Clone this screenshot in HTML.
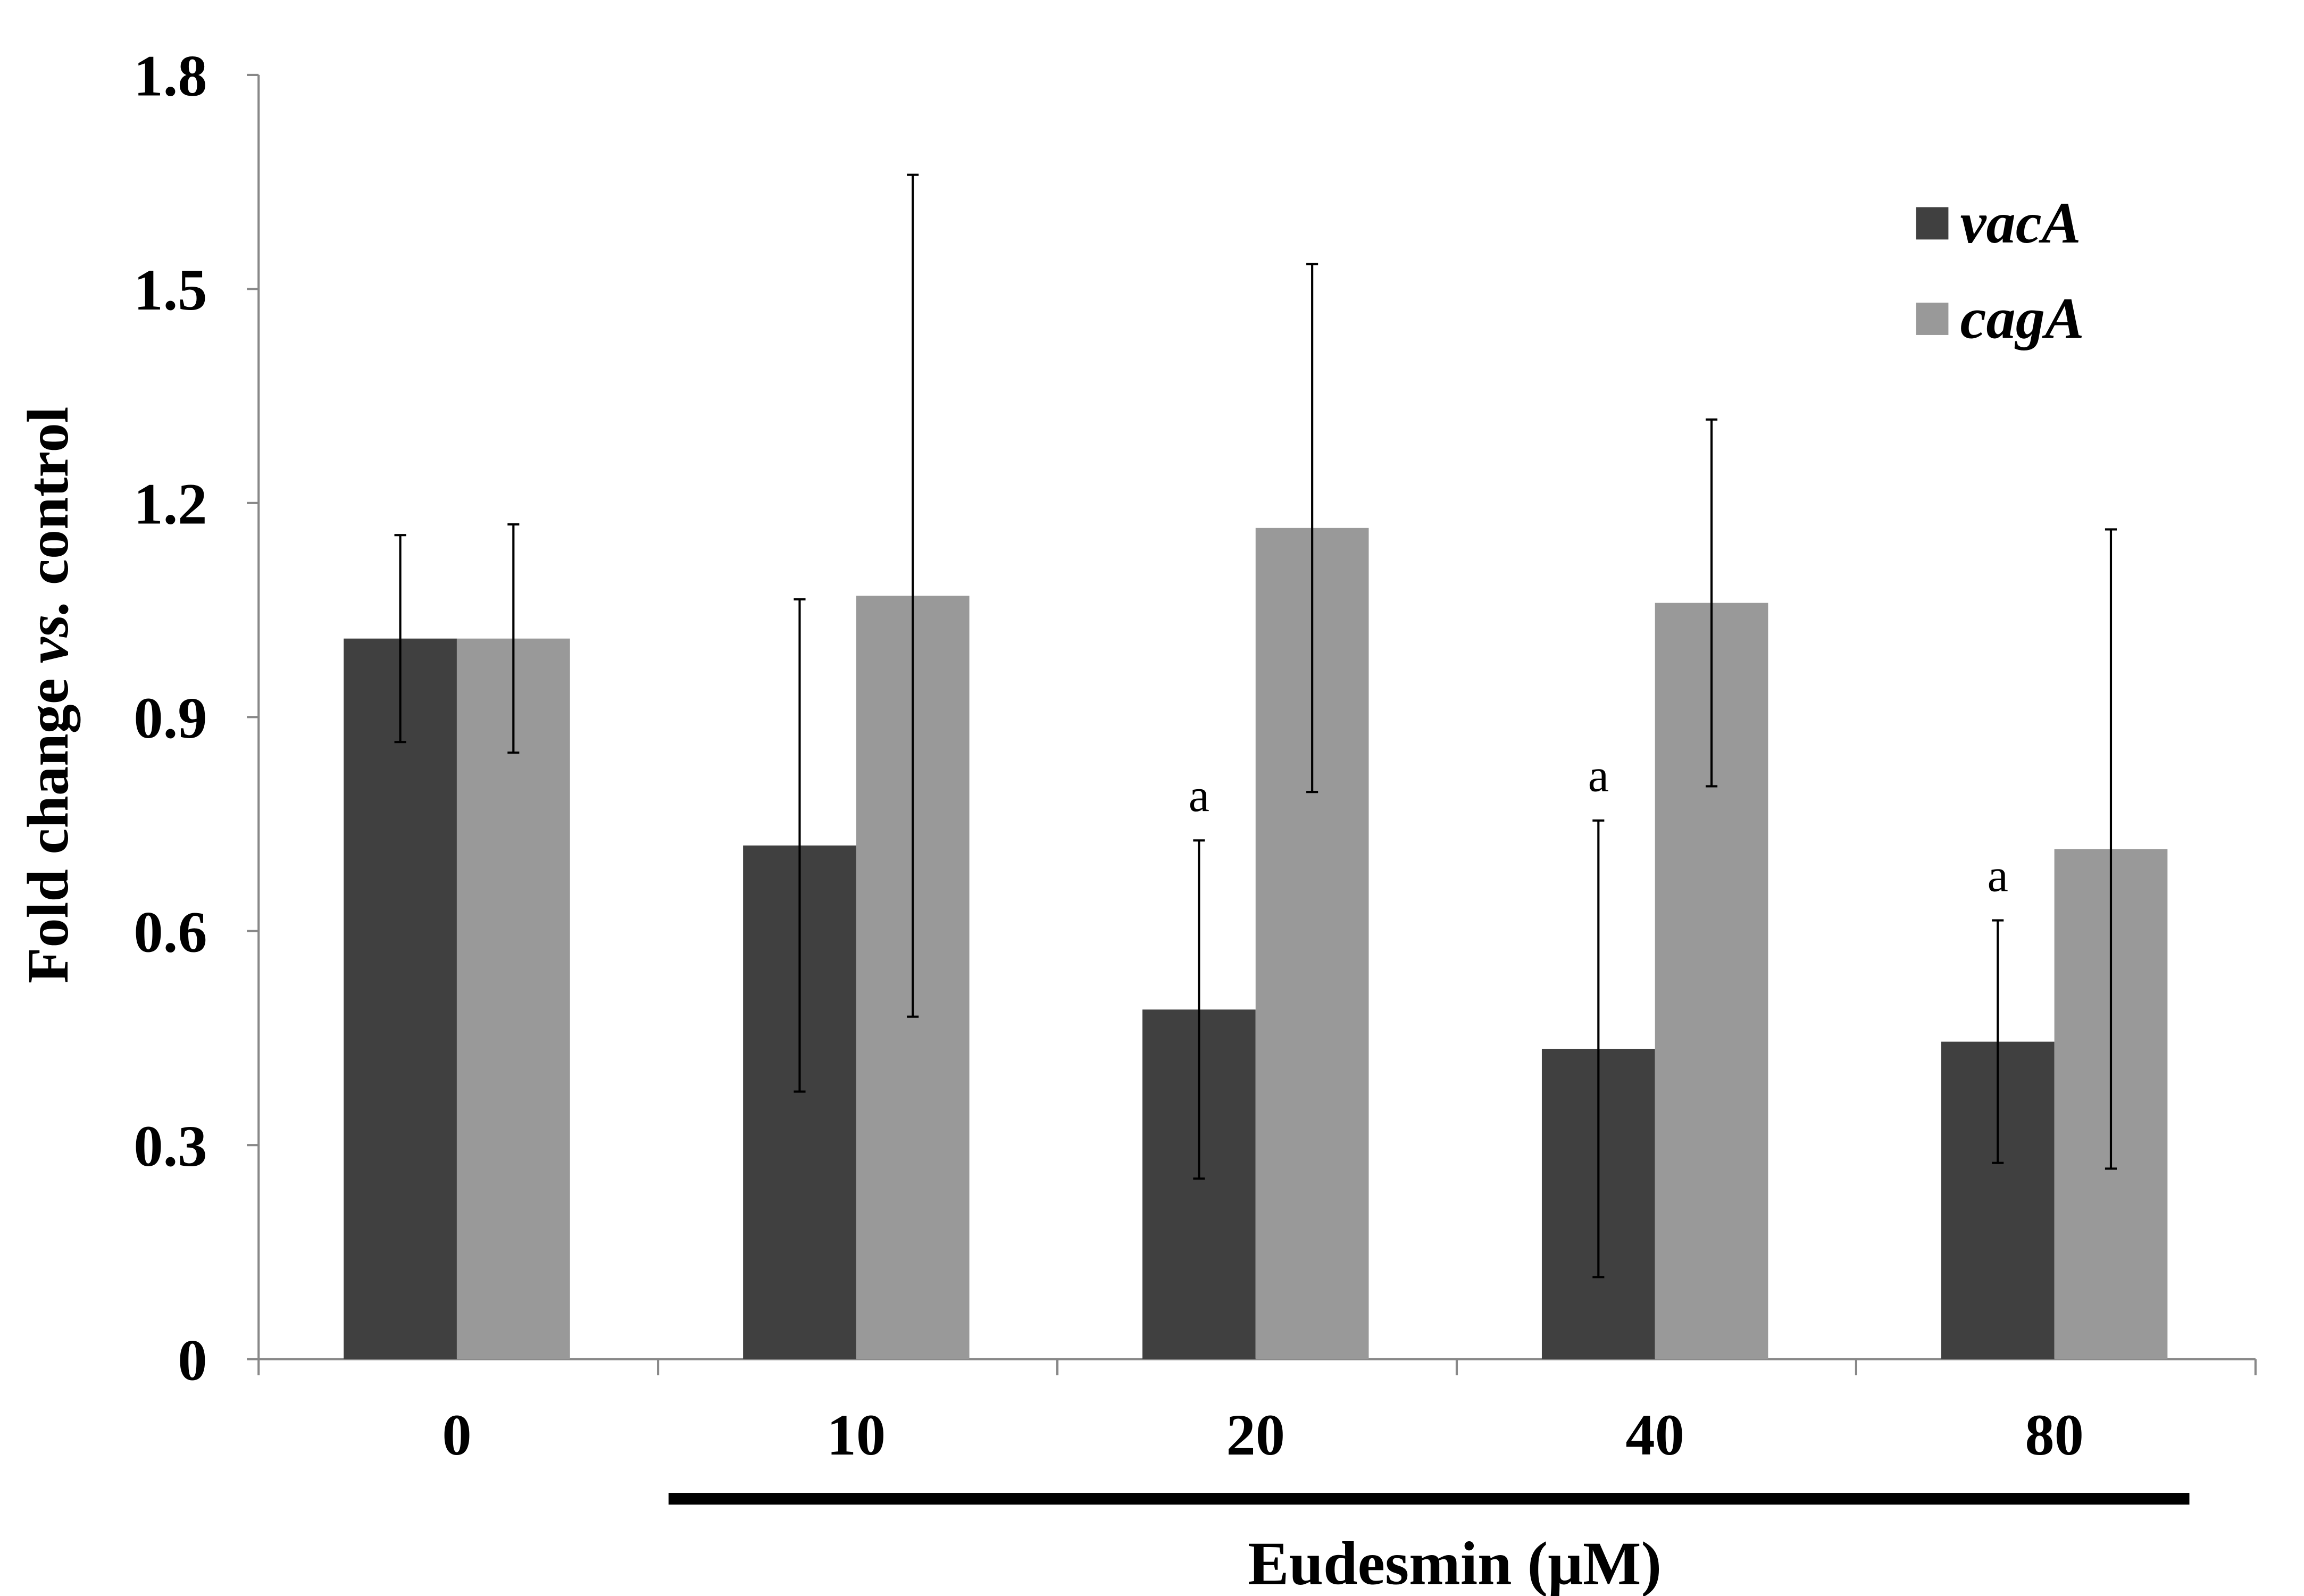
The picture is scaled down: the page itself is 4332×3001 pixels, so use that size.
<!DOCTYPE html>
<html><head><meta charset="utf-8"><style>
html,body{margin:0;padding:0;background:#fff;}
svg{display:block;}
text{font-family:"Liberation Serif",serif;font-weight:bold;fill:#000;}
text.sig{font-weight:normal;}
</style></head><body>
<svg id="chart" width="4332" height="3001" viewBox="0 0 1568 1086.2" preserveAspectRatio="none" xmlns="http://www.w3.org/2000/svg">
<g id="g"></g>
</svg>
<script>
const categories = ["0","10","20","40","80"];
const vacA = [1.01, 0.72, 0.49, 0.435, 0.445];
const vacAErr = [0.145, 0.345, 0.237, 0.32, 0.17];
const cagA = [1.01, 1.07, 1.165, 1.06, 0.715];
const cagAErr = [0.16, 0.59, 0.37, 0.257, 0.448];
const sigMarks = ["", "", "a", "a", "a"];
const yTicks = [0, 0.3, 0.6, 0.9, 1.2, 1.5, 1.8];
const yTickLabels = ["0","0.3","0.6","0.9","1.2","1.5","1.8"];

const NS = "http://www.w3.org/2000/svg";
const g = document.getElementById('g');
const X0 = 176, X1 = 1535, Y0 = 925, YT = 51, YMAX = 1.8;
const bw = (X1 - X0) / categories.length;
const y = v => Y0 - (v / YMAX) * (Y0 - YT);
const cx = i => X0 + bw * (i + 0.5) - 4;
function el(tag, attrs, txt) {
  const e = document.createElementNS(NS, tag);
  for (const k in attrs) e.setAttribute(k, attrs[k]);
  if (txt !== undefined) e.textContent = txt;
  g.appendChild(e);
  return e;
}
let a = el('line', {x1: X0, y1: YT, x2: X0, y2: Y0, stroke: '#888', 'stroke-width': 1.5});


a = el('line', {x1: X0, y1: Y0, x2: X1, y2: Y0, stroke: '#888', 'stroke-width': 1.5});


yTicks.forEach((t, i) => {
  const tk = el('line', {x1: X0 - 8, y1: y(t), x2: X0, y2: y(t), stroke: '#888', 'stroke-width': 1.5});
  
  
  const lb = el('text', {x: 141, y: y(t) + 14, 'text-anchor': 'end', 'font-size': 40}, yTickLabels[i]);
  
  
});
for (let i = 0; i <= categories.length; i++) {
  const tk = el('line', {x1: X0 + bw * i, y1: Y0, x2: X0 + bw * i, y2: Y0 + 11, stroke: '#888', 'stroke-width': 1.5});
  
  
}
const W = 77;
function bar(v, e, x, col, name) {
  const r = el('rect', {x: x, y: y(v), width: W, height: Y0 - y(v), fill: col});
  
  
  const m = x + W / 2;
  const eb = el('path', {d: `M${m},${y(v + e)}V${y(v - e)}M${m - 4},${y(v + e)}H${m + 4}M${m - 4},${y(v - e)}H${m + 4}`, stroke: '#000', 'stroke-width': 1.5, fill: 'none'});
  
  
}
categories.forEach((c, i) => {
  const m = cx(i) + 4 - 1;
  bar(vacA[i], vacAErr[i], m - W, '#404040', 'bar-vaca-' + c);
  bar(cagA[i], cagAErr[i], m, '#999999', 'bar-caga-' + c);
  const lb = el('text', {x: m, y: 990, 'text-anchor': 'middle', 'font-size': 40}, c);
  
  
  if (sigMarks[i]) {
    const s = el('text', {x: m - W / 2, y: y(vacA[i] + vacAErr[i]) - 20, 'text-anchor': 'middle', 'font-size': 32, class: 'sig'}, sigMarks[i]);
    
    
  }
});
let t = el('rect', {x: 455, y: 1016, width: 1035, height: 8, fill: '#000'});


t = el('text', {x: 990, y: 1078, 'text-anchor': 'middle', 'font-size': 42}, 'Eudesmin (μM)');


t = el('text', {x: 0, y: 0, 'text-anchor': 'middle', 'font-size': 40, transform: 'translate(46,473) rotate(-90)'});
t.innerHTML = 'Fold change <tspan font-style="italic">vs.</tspan> control';


[['vacA', '#404040', 153], ['cagA', '#999999', 218]].forEach(([n, c, yy]) => {
  const r = el('rect', {x: 1304, y: yy - 12, width: 22, height: 22, fill: c});
  
  
  const l = el('text', {x: 1334, y: yy + 12, 'font-size': 40, 'font-style': 'italic'}, n);
  
  
});
</script>
</body></html>
